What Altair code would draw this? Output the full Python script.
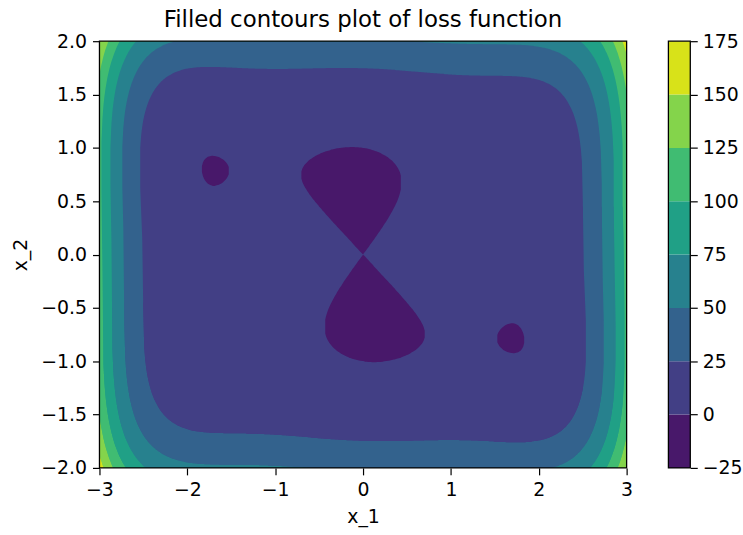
import numpy as np
import pandas as pd
import altair as alt

# ---- data -------------------------------------------------------------
X1_RANGE = [-3.0, 3.0]
X2_RANGE = [-2.0, 2.0]
LEVELS = [-25, 0, 25, 50, 75, 100, 125, 150, 175]
BAND_COLORS = ["#48186a", "#423f85", "#33628d", "#27818e",
               "#20a086", "#40bc72", "#84d44b", "#d8e219"]
X1_TICKS = [-3, -2, -1, 0, 1, 2, 3]
X2_TICKS = [-2.0, -1.5, -1.0, -0.5, 0.0, 0.5, 1.0, 1.5, 2.0]
NX, NY = 531, 1601


def loss(x1, x2):
    # six-hump camel loss surface
    return (4 - 2.1 * x1**2 + x1**4 / 3) * x1**2 + x1 * x2 + (-4 + 4 * x2**2) * x2**2


xs = np.linspace(X1_RANGE[0], X1_RANGE[1], NX)
ys = np.linspace(X2_RANGE[0], X2_RANGE[1], NY)
hy = (ys[1] - ys[0]) / 2
XX, YY = np.meshgrid(xs, ys)
Z = loss(XX, YY)

# split every column at the saddle between the two wells so each half is one interval
mid = np.where(np.abs(ys) < 0.45)[0]
split = mid[np.argmax(Z[mid, :], axis=0)]

recs = []
seg_id = 0
for k in range(len(BAND_COLORS) - 1):
    inside = Z < LEVELS[k + 1]
    lower = [None] * NX
    upper = [None] * NX
    for i in range(NX):
        s = split[i]
        col = inside[:, i]
        lo_idx = np.where(col[: s + 1])[0]
        up_idx = np.where(col[s + 1:])[0] + s + 1
        if lo_idx.size:
            lower[i] = [lo_idx.min(), lo_idx.max()]
        if up_idx.size:
            upper[i] = [up_idx.min(), up_idx.max()]
        if lower[i] and upper[i] and lower[i][1] == s and upper[i][0] == s + 1:
            upper[i][0] = lower[i][0]
    for half in (lower, upper):
        prev = False
        for i in range(NX):
            if half[i] is None:
                prev = False
                continue
            if not prev:
                seg_id += 1
            a, b = half[i]
            recs.append((k, seg_id, xs[i],
                         max(ys[a] - hy, X2_RANGE[0]), min(ys[b] + hy, X2_RANGE[1])))
            prev = True
area_df = pd.DataFrame(recs, columns=["band", "seg", "x", "lo", "hi"])

bg_df = pd.DataFrame({"xa": [X1_RANGE[0]], "xb": [X1_RANGE[1]], "ya": [X2_RANGE[0]],
                      "yb": [X2_RANGE[1]], "band": [len(BAND_COLORS) - 1]})
cb = pd.DataFrame({"lo": LEVELS[:-1], "hi": LEVELS[1:], "band": list(range(len(BAND_COLORS)))})

FONT = "DejaVu Sans"
FS = 19
W, H = 530, 429

color = alt.Color("band:N", scale=alt.Scale(domain=list(range(len(BAND_COLORS))), range=BAND_COLORS), legend=None)
xscale = alt.Scale(domain=X1_RANGE, nice=False, zero=False)
yscale = alt.Scale(domain=X2_RANGE, nice=False, zero=False)
xaxis = alt.Axis(values=X1_TICKS, format="d", title="x_1", titlePadding=8)
yaxis = alt.Axis(values=X2_TICKS, format=".1f", title="x_2", titlePadding=10)

background = alt.Chart(bg_df).mark_rect(strokeWidth=0).encode(
    x=alt.X("xa:Q", scale=xscale, axis=xaxis),
    x2="xb:Q",
    y=alt.Y("ya:Q", scale=yscale, axis=yaxis),
    y2="yb:Q",
    color=color,
)

layers = [background]
for k in range(len(BAND_COLORS) - 2, -1, -1):
    layers.append(
        alt.Chart(area_df).transform_filter(f"datum.band == {k}").mark_area(
            strokeWidth=0, interpolate="linear", clip=True
        ).encode(
            x=alt.X("x:Q", scale=xscale, axis=xaxis),
            y=alt.Y("lo:Q", scale=yscale, axis=yaxis),
            y2="hi:Q",
            detail="seg:N",
            color=color,
        )
    )

frame = alt.Chart(cb).mark_rect(filled=False, stroke="black", strokeWidth=1.3).encode(
    x=alt.value(0), x2=alt.value(W), y=alt.value(0), y2=alt.value(H)
).transform_filter("datum.band == 0")
layers.append(frame)

main = alt.layer(*layers).properties(
    width=W, height=H,
    title=alt.TitleParams("Filled contours plot of loss function", fontSize=23, font=FONT,
                          fontWeight="normal", color="black", anchor="middle", offset=0),
)

cbar_rect = alt.Chart(cb).mark_rect(strokeWidth=0).encode(
    x=alt.value(0), x2=alt.value(22),
    y=alt.Y("lo:Q", scale=alt.Scale(domain=[LEVELS[0], LEVELS[-1]], nice=False, zero=False),
            axis=alt.Axis(orient="right", values=LEVELS, format="d", title=None, labelPadding=5)),
    y2="hi:Q",
    color=color,
)
cbar_frame = alt.Chart(cb).mark_rect(filled=False, stroke="black", strokeWidth=1.3).encode(
    x=alt.value(0), x2=alt.value(22), y=alt.value(0), y2=alt.value(H)
).transform_filter("datum.band == 0")
cbar = alt.layer(cbar_rect, cbar_frame).properties(width=22, height=H)

chart = alt.hconcat(main, cbar, spacing=34).resolve_scale(color="shared").configure(
    padding={"left": 11, "top": 8, "right": 0, "bottom": 0},
    background="white",
).configure_view(stroke=None).configure_axis(
    labelFont=FONT, labelFontSize=FS, labelColor="black", labelPadding=6,
    titleFont=FONT, titleFontSize=FS, titleColor="black", titleFontWeight="normal",
    tickColor="black", tickSize=7, tickWidth=1.2, domain=False, grid=False, zindex=1,
    labelFlush=False, labelOverlap=False,
)

chart.save("out.html", embed_options={"renderer": "svg", "actions": False})
